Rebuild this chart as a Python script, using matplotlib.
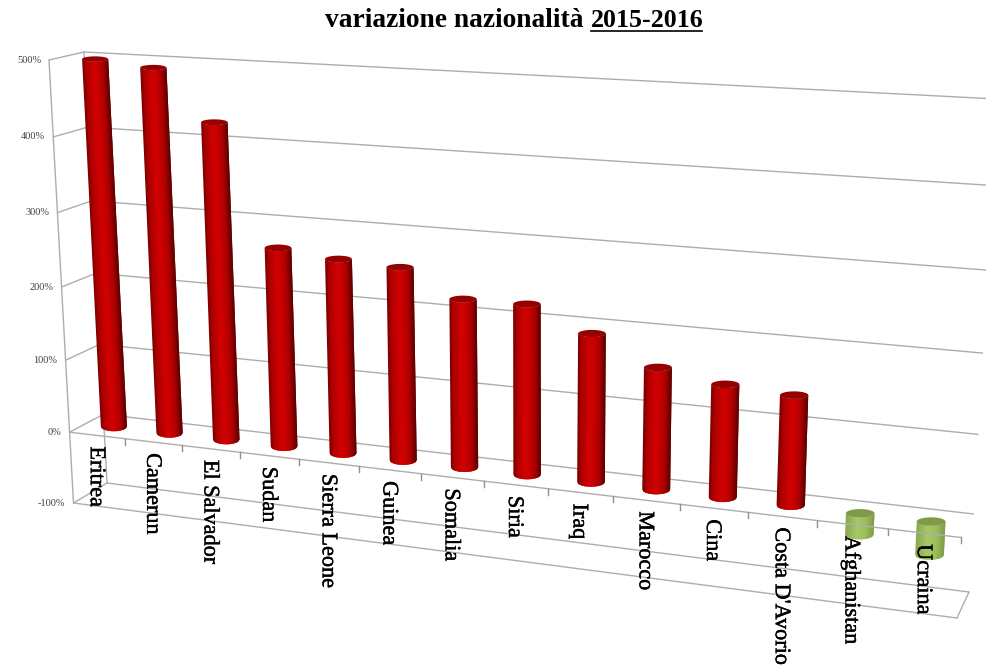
import numpy as np
import matplotlib
matplotlib.use("Agg")
from matplotlib import pyplot as plt
from matplotlib import patheffects
from matplotlib.collections import PolyCollection
from matplotlib.colors import LinearSegmentedColormap
from matplotlib.transforms import Transform

# data
countries = ["Eritrea", "Camerun", "El Salvador", "Sudan", "Sierra Leone", "Guinea", "Somalia",
             "Siria", "Iraq", "Marocco", "Cina", "Costa D'Avorio", "Afghanistan", "Ucraina"]
variation = [498, 491, 425, 267, 259, 255, 221, 222, 192, 157, 144, 139, -27, -42]
value_ticks = [-100, 0, 100, 200, 300, 400, 500]
value_labels = ["-100%", "0%", "100%", "200%", "300%", "400%", "500%"]


class PlaneTransform(Transform):
    """Perspective map of (category, value) on one plane of the 3D box to pixels."""
    input_dims = 2
    output_dims = 2

    def __init__(self, corners):
        super().__init__()
        src = [(0, -100), (14, -100), (0, 500), (14, 500)]
        a, b = [], []
        for (u, v), (x, y) in zip(src, corners):
            a.append([u, v, 1, 0, 0, 0, -u * x, -v * x])
            a.append([0, 0, 0, u, v, 1, -u * y, -v * y])
            b += [x, y]
        self.h = np.append(np.linalg.solve(np.array(a, float), np.array(b, float)), 1).reshape(3, 3)

    def transform_non_affine(self, values):
        values = np.asarray(values, float)
        p = np.column_stack([values, np.ones(len(values))]) @ self.h.T
        return p[:, :2] / p[:, 2:]


# box corners in pixels: bottom left, bottom right, top left, top right
front_px = np.array([(73.5, 503), (957, 618), (49, 60), (981, 111)])
back_px = np.array([(107, 483), (969, 592), (84, 52), (997, 99)])
front_plane = PlaneTransform(front_px)
back_plane = PlaneTransform(back_px)
mid_plane = PlaneTransform((front_px + back_px) / 2)

fig = plt.figure(figsize=(9.87, 6.69), dpi=100)
ax = fig.add_axes([0, 0, 1, 1])
ax.set_xlim(0, 987)
ax.set_ylim(669, 0)
ax.axis("off")

front = front_plane + ax.transData
back = back_plane + ax.transData

grid = dict(color="#adadad", lw=1.0, solid_capstyle="round")


def depth_line(u, v):
    # line going from the front plane to the back plane
    p0 = front_plane.transform([(u, v)])[0]
    p1 = back_plane.transform([(u, v)])[0]
    ax.plot([p0[0], p1[0]], [p0[1], p1[1]], zorder=1, **grid)


# back wall and floor
for v in value_ticks:
    ax.plot([0, 14], [v, v], transform=back, zorder=1, **grid)
    depth_line(0, v)
ax.plot([0, 0], [-100, 500], transform=back, zorder=1, **grid)
ax.plot([0, 0], [-100, 500], transform=front, zorder=3, **grid)
depth_line(14, -100)

red_map = LinearSegmentedColormap.from_list("r", [(0, "#780000"), (0.14, "#ac0000"), (0.42, "#cf0000"),
                                                  (0.55, "#cc0000"), (0.78, "#ac0000"), (0.94, "#700000"),
                                                  (1, "#5e0000")])
green_map = LinearSegmentedColormap.from_list("g", [(0, "#8aa850"), (0.4, "#a6c964"),
                                                    (0.7, "#9cbe5c"), (1, "#7f9c48")])


def draw_cylinder(pos, value):
    top = max(value, 0)
    bottom = min(value, 0)
    cmap = red_map if value > 0 else green_map
    cap = "#950000" if value > 0 else "#7f9a48"
    (x_top, y_top), (x_bot, y_bot) = mid_plane.transform([(pos, top), (pos, bottom)])
    half = 13 + 0.1 * pos
    # ellipses stay level on screen and get flatter higher up
    e_top = 4.2 - 0.003 * top
    e_bot = 4.8 - 0.003 * bottom
    s = np.linspace(-1, 1, 31)
    arc = np.sqrt(1 - s ** 2)
    verts, cols = [], []
    # each strip overlaps the next one so the seams do not show
    for i in range(30):
        k = slice(i, min(i + 3, 31))
        xs = np.r_[x_bot + half * s[k], (x_top + half * s[k])[::-1]]
        ys = np.r_[y_bot + e_bot * arc[k], (y_top + e_top * arc[k])[::-1]]
        verts.append(np.column_stack([xs, ys]))
        cols.append(cmap((i + 0.5) / 30))
    body = PolyCollection(verts, facecolors=cols, edgecolors="none", zorder=2)
    body.set_snap(False)
    ax.add_collection(body, autolim=False)
    th = np.linspace(0, 2 * np.pi, 60)
    ax.fill(x_top + half * np.cos(th), y_top + e_top * np.sin(th), zorder=2.1, color=cap, lw=0)


for i, val in enumerate(variation):
    draw_cylinder(i + 0.5, val)

# front edges of the zero plane and the floor, with the category ticks
ax.plot([0, 14], [-100, -100], transform=front, zorder=3, **grid)
ax.plot([0, 14], [0, 0], transform=front, zorder=3, **grid)
for i in range(1, 15):
    x, y = front_plane.transform([(i, 0)])[0]
    ax.plot([x, x], [y, y + 6], color="#909090", lw=1.0, zorder=3)

# value labels
for v, lab in zip(value_ticks, value_labels):
    ax.annotate(lab, xy=(0, v), xycoords=front, xytext=(-8, 0), textcoords="offset pixels",
                ha="right", va="center", fontsize=7.5, family="Liberation Serif", color="#404040", zorder=4)

# category labels
stroke = [patheffects.withStroke(linewidth=0.3, foreground="black")]
for i, name in enumerate(countries):
    ax.annotate(name, xy=(i + 0.5, 0), xycoords=front, xytext=(-2, -11), textcoords="offset pixels",
                ha="center", va="top", rotation=270, fontsize=16, family="Liberation Serif",
                color="black", zorder=4, path_effects=stroke)

# title, the years are underlined
ax.text(590, 27, "variazione nazionalità ", ha="right", va="baseline", fontsize=19.8, fontweight="bold",
        family="Liberation Serif")
ax.text(591, 27, "2015-2016", ha="left", va="baseline", fontsize=18.6, fontweight="bold",
        family="Liberation Serif")
ax.plot([591, 702], [30.5, 30.5], color="black", lw=1.2)

fig.savefig("out.png", dpi=100)
